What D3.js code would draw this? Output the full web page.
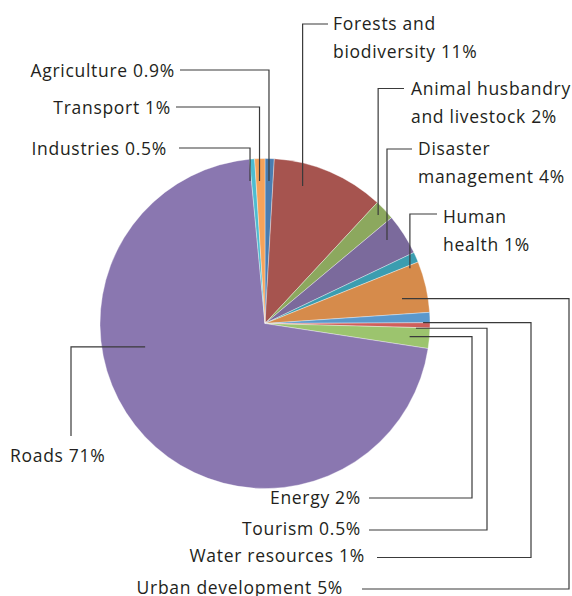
<!DOCTYPE html>
<html>
<head>
<meta charset="utf-8">
<script src="https://cdn.jsdelivr.net/npm/d3@7"></script>
<style>
  html, body { margin: 0; padding: 0; background: #fff; }
  svg { display: block; }
  text { font-family: "Open Sans", "Noto Sans", sans-serif; font-size: 17.5px; letter-spacing: 0.7px; fill: #231f20; }
</style>
</head>
<body>
<svg id="chart" width="572" height="596"></svg>
<script>
// Sectors, clockwise from 12 o'clock, with their share of the total (%)
const categories = [
  "Agriculture", "Forests and biodiversity", "Animal husbandry and livestock",
  "Disaster management", "Human health", "Urban development", "Water resources",
  "Tourism", "Energy", "Roads", "Industries", "Transport"
];
const shares = [0.9, 11, 2, 4, 1, 5, 1, 0.5, 2, 71, 0.5, 1];
const colors = [
  "#4a7db1", "#a6544f", "#8ca85e", "#7b6a9c", "#3b9db0", "#d68b4b",
  "#5a98cc", "#cf5f5c", "#9cc46e", "#8a77b0", "#4dbcd0", "#f6a35a"
];

// Label text lines (the value is appended to the last line)
const labelLines = [
  ["Agriculture"], ["Forests and", "biodiversity"], ["Animal husbandry", "and livestock"],
  ["Disaster", "management"], ["Human", "health"], ["Urban development"], ["Water resources"],
  ["Tourism"], ["Energy"], ["Roads"], ["Industries"], ["Transport"]
];

// Callout layout: anchor inside the slice (angle in degrees from 12 o'clock, fraction of radius),
// the leader route after the anchor, and where the label sits.
const cx = 265, cy = 323.5, radius = 165;
const callouts = [
  { ang: 1.6,   rf: 0.864, route: [["v", 70], ["h", 180]],               lx: 175, ly: 70,  anchor: "end" },
  { ang: 15.3,  rf: 0.864, route: [["v", 24], ["h", 328]],               lx: 333, ly: 23,  anchor: "start" },
  { ang: 46.2,  rf: 0.95,  route: [["v", 88.5], ["h", 404]],             lx: 411, ly: 88,  anchor: "start" },
  { ang: 55.6,  rf: 0.896, route: [["v", 149], ["h", 412]],              lx: 418, ly: 148, anchor: "start" },
  { ang: 69.1,  rf: 0.94,  route: [["v", 214], ["h", 437]],              lx: 443, ly: 216, anchor: "start" },
  { ang: 79.7,  rf: 0.844, route: [["h", 569], ["v", 589], ["h", 362]],  lx: 343, ly: 587, anchor: "end" },
  { ang: 89.7,  rf: 0.958, route: [["h", 531], ["v", 557.5], ["h", 377]],lx: 365, ly: 555, anchor: "end" },
  { ang: 91.8,  rf: 0.915, route: [["h", 487], ["v", 530], ["h", 369]],  lx: 361, ly: 528, anchor: "end" },
  { ang: 95.2,  rf: 0.88,  route: [["h", 472], ["v", 498], ["h", 369]],  lx: 361, ly: 497, anchor: "end" },
  { ang: 259,   rf: 0.74,  route: [["h", 71], ["v", 436]],               lx: 10,  ly: 455, anchor: "start" },
  { ang: -6.0,  rf: 0.868, route: [["v", 148], ["h", 179]],              lx: 167, ly: 148, anchor: "end" },
  { ang: -2.2,  rf: 0.865, route: [["v", 107], ["h", 176]],              lx: 171, ly: 107, anchor: "end" }
];
const lineGap = 27.5;

const data = categories.map((name, i) => ({ name, value: shares[i], color: colors[i], lines: labelLines[i], c: callouts[i] }));

const svg = d3.select("#chart");
const g = svg.append("g").attr("transform", `translate(${cx},${cy})`);

const pie = d3.pie().value(d => d.value).sort(null).startAngle(0).endAngle(2 * Math.PI);
const arc = d3.arc().innerRadius(0).outerRadius(radius);

g.selectAll("path.slice")
  .data(pie(data))
  .join("path")
  .attr("class", "slice")
  .attr("d", arc)
  .attr("fill", d => d.data.color)
  .attr("stroke", "#ffffff")
  .attr("stroke-opacity", 0.6)
  .attr("stroke-width", 0.6);

// Leader lines
const leaders = svg.append("g")
  .attr("fill", "none")
  .attr("stroke", "#3a3a3a")
  .attr("stroke-width", 1.2);

data.forEach(d => {
  const a = d.c.ang * Math.PI / 180;
  let x = cx + Math.sin(a) * radius * d.c.rf;
  let y = cy - Math.cos(a) * radius * d.c.rf;
  const pts = [[x, y]];
  d.c.route.forEach(([dir, v]) => {
    if (dir === "v") y = v; else x = v;
    pts.push([x, y]);
  });
  leaders.append("path").attr("d", d3.line()(pts));
});

// Labels
const fmt = v => `${v}%`;
data.forEach(d => {
  const t = svg.append("text")
    .attr("x", d.c.lx)
    .attr("y", d.c.ly)
    .attr("text-anchor", d.c.anchor)
    .attr("dominant-baseline", "central");
  d.lines.forEach((ln, j) => {
    const last = j === d.lines.length - 1;
    t.append("tspan")
      .attr("x", d.c.lx)
      .attr("dy", j === 0 ? 0 : lineGap)
      .text(last ? `${ln} ${fmt(d.value)}` : ln);
  });
});
</script>
</body>
</html>
